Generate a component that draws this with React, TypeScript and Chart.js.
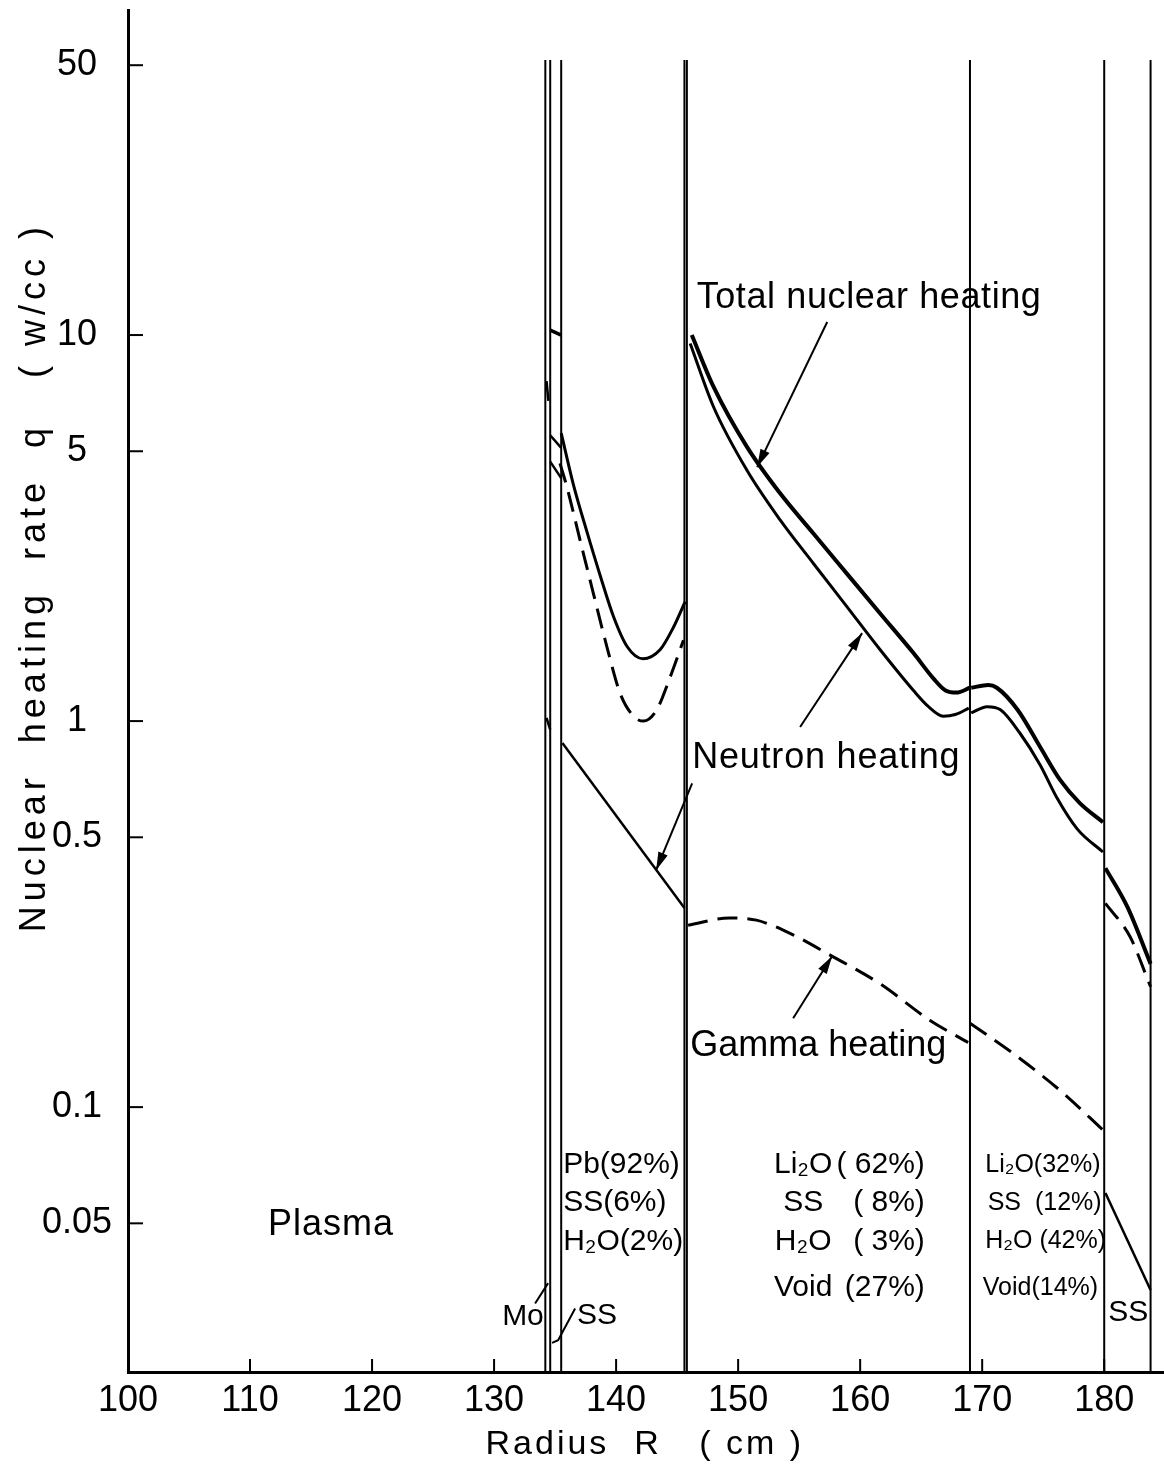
import React, { useEffect, useRef } from 'react';
import { Chart, registerables } from 'chart.js';

Chart.register(...registerables);

const FONT = "'Liberation Sans', Arial, sans-serif";
const W = 1164;
const H = 1469;

// ---- axes ----
const xTicks = [100, 110, 120, 130, 140, 150, 160, 170, 180];
const yTicks = [0.05, 0.1, 0.5, 1, 5, 10, 50];
const yTickLabels = ['0.05', '0.1', '0.5', '1', '5', '10', '50'];
const xRange = [100, 184.9];
const yRange = [0.0206, 69.5];
const xTitle = 'Radius  R   ( cm )';
const yTitle = 'Nuclear  heating  rate  q   ( w/cc )';

// ---- layer boundaries (cm) ----
const boundaryR = [134.2, 134.6, 135.5, 145.6, 145.8, 169.0, 180.0, 183.8];
const boundaryQ = [0.0206, 51.6];

// ---- first wall (Mo / SS) ----
const fwTotalR = [134.6, 135.5];
const fwTotalQ = [10.3, 10.0];
const fwMoGammaR = [134.3, 134.5];
const fwMoGammaQ = [7.6, 6.5];
const fwUpperR = [134.6, 135.5];
const fwUpperQ = [5.5, 5.1];
const fwGammaR = [134.6, 135.5];
const fwGammaQ = [4.7, 4.26];
const fwLowR = [134.3, 134.6];
const fwLowQ = [1.02, 0.95];

// ---- Pb zone ----
const pbTotalR = [135.5, 136.5, 137.6, 138.7, 139.8, 140.9, 142.2, 143.6, 144.7, 145.66];
const pbTotalQ = [5.57, 4.1, 3.1, 2.38, 1.86, 1.56, 1.45, 1.53, 1.75, 2.04];
const pbGammaR = [135.4, 135.96, 137.05, 138.14, 139.24, 140.33, 141.42, 142.24, 143.33, 144.43, 145.52];
const pbGammaQ = [4.65, 4.05, 2.94, 2.14, 1.56, 1.18, 1.03, 1.0, 1.07, 1.3, 1.62];
const pbNeutronR = [135.6, 145.6];
const pbNeutronQ = [0.877, 0.328];

// ---- Li2O (62%) zone ----
const liTotalR = [146.2, 147.98, 150.71, 153.44, 156.17, 158.91, 161.64, 164.37, 166.0, 167.0, 167.9, 169.0];
const liTotalQ = [10.0, 7.35, 5.14, 3.89, 3.06, 2.41, 1.9, 1.5, 1.29, 1.2, 1.185, 1.22];
const liNeutronR = [146.07, 147.98, 150.71, 153.44, 156.17, 158.91, 161.64, 164.37, 165.6, 166.8, 167.8, 168.9];
const liNeutronQ = [9.51, 6.52, 4.47, 3.32, 2.56, 1.98, 1.53, 1.2, 1.09, 1.03, 1.04, 1.08];
const liGammaR = [145.9, 149.3, 151.5, 154.25, 157.5, 161.6, 165.7, 168.85];
const liGammaQ = [0.296, 0.309, 0.305, 0.282, 0.248, 0.209, 0.168, 0.147];

// ---- Li2O (32%) zone ----
const li2TotalR = [169.1, 170.5, 171.2, 172.9, 174.75, 176.4, 178.0, 179.9];
const li2TotalQ = [1.22, 1.24, 1.22, 1.07, 0.857, 0.703, 0.613, 0.547];
const li2NeutronR = [169.1, 170.4, 171.5, 173.1, 174.75, 176.1, 177.8, 179.9];
const li2NeutronQ = [1.05, 1.09, 1.07, 0.93, 0.77, 0.635, 0.525, 0.458];
const li2GammaR = [169.0, 172.5, 176.6, 179.9];
const li2GammaQ = [0.165, 0.138, 0.109, 0.0872];

// ---- SS shield zone ----
const ssTotalR = [180.1, 181.9, 183.8];
const ssTotalQ = [0.416, 0.33, 0.235];
const ssGammaR = [180.1, 182.1, 183.8];
const ssGammaQ = [0.337, 0.277, 0.205];
const ssNeutronR = [180.1, 183.8];
const ssNeutronQ = [0.0599, 0.0336];

// ---- annotations (data coordinates) ----
type Note = { text: string; r: number; q: number; size: number; align: CanvasTextAlign; ls?: number };
const notes: Note[] = [
  { text: 'Total nuclear heating', r: 146.6, q: 12.5, size: 36, align: 'left', ls: 0.6 },
  { text: 'Neutron heating', r: 146.23, q: 0.802, size: 36, align: 'left', ls: 0.8 },
  { text: 'Gamma heating', r: 146.07, q: 0.144, size: 36, align: 'left' },
  { text: 'Plasma', r: 111.48, q: 0.0495, size: 36, align: 'left', ls: 1 },
  { text: 'Pb(92%)', r: 135.66, q: 0.0708, size: 30, align: 'left' },
  { text: 'SS(6%)', r: 135.66, q: 0.0564, size: 30, align: 'left' },
  { text: 'H\u2082O(2%)', r: 135.66, q: 0.0449, size: 30, align: 'left' },
  { text: 'Li\u2082O', r: 155.33, q: 0.0708, size: 30, align: 'center' },
  { text: 'SS', r: 155.33, q: 0.0564, size: 30, align: 'center' },
  { text: 'H\u2082O', r: 155.33, q: 0.0449, size: 30, align: 'center' },
  { text: 'Void', r: 155.33, q: 0.034, size: 30, align: 'center' },
  { text: '( 62%)', r: 165.3, q: 0.0708, size: 30, align: 'right' },
  { text: '( 8%)', r: 165.3, q: 0.0564, size: 30, align: 'right' },
  { text: '( 3%)', r: 165.3, q: 0.0449, size: 30, align: 'right' },
  { text: '(27%)', r: 165.3, q: 0.034, size: 30, align: 'right' },
  { text: 'Li\u2082O(32%)', r: 170.25, q: 0.0708, size: 25, align: 'left' },
  { text: 'SS  (12%)', r: 170.45, q: 0.0564, size: 25, align: 'left' },
  { text: 'H\u2082O (42%)', r: 170.25, q: 0.0449, size: 25, align: 'left' },
  { text: 'Void(14%)', r: 170.05, q: 0.034, size: 25, align: 'left' },
  { text: 'SS', r: 180.33, q: 0.0293, size: 30, align: 'left' },
  { text: 'Mo', r: 130.66, q: 0.0286, size: 30, align: 'left' },
  { text: 'SS', r: 136.8, q: 0.0289, size: 30, align: 'left' },
];

type Arrow = { pts: [number, number][]; head: boolean };
const arrows: Arrow[] = [
  { pts: [[157.3, 10.81], [151.56, 4.55]], head: true },
  { pts: [[155.08, 0.965], [160.16, 1.69]], head: true },
  { pts: [[146.23, 0.69], [143.28, 0.411]], head: true },
  { pts: [[154.51, 0.17], [157.7, 0.246]], head: true },
  { pts: [[133.36, 0.031], [134.43, 0.035]], head: false },
  { pts: [[136.64, 0.0301], [135.25, 0.0249], [134.75, 0.0245]], head: false },
];

const pts = (r: number[], q: number[]) => r.map((v, i) => ({ x: v, y: q[i] }));

function curve(r: number[], q: number[], width: number, dashed = false) {
  return {
    data: pts(r, q),
    showLine: true,
    borderColor: '#000',
    borderWidth: width,
    borderDash: dashed ? [20, 10] : [],
    pointRadius: 0,
    fill: false,
    cubicInterpolationMode: 'monotone' as const,
  };
}

function straight(r: number[], q: number[], width: number, dashed = false) {
  return {
    data: pts(r, q),
    showLine: true,
    borderColor: '#000',
    borderWidth: width,
    borderDash: dashed ? [20, 10] : [],
    pointRadius: 0,
    fill: false,
    tension: 0,
  };
}

const annotPlugin = {
  id: 'annot',
  afterDraw(chart: any) {
    const { ctx, chartArea } = chart;
    const xs = chart.scales.x;
    const ys = chart.scales.y;
    ctx.save();
    ctx.strokeStyle = '#000';
    ctx.fillStyle = '#000';
    ctx.lineWidth = 2;
    // inward tick marks
    xTicks.forEach((v) => {
      if (v === xRange[0]) return;
      const px = xs.getPixelForValue(v);
      ctx.beginPath();
      ctx.moveTo(px, chartArea.bottom);
      ctx.lineTo(px, chartArea.bottom - 13);
      ctx.stroke();
    });
    yTicks.forEach((v) => {
      const py = ys.getPixelForValue(v);
      ctx.beginPath();
      ctx.moveTo(chartArea.left, py);
      ctx.lineTo(chartArea.left + 15, py);
      ctx.stroke();
    });
    // arrows / leaders
    arrows.forEach((a) => {
      const p = a.pts.map(([r, q]) => [xs.getPixelForValue(r), ys.getPixelForValue(q)]);
      ctx.lineWidth = 2;
      ctx.beginPath();
      ctx.moveTo(p[0][0], p[0][1]);
      for (let i = 1; i < p.length; i++) ctx.lineTo(p[i][0], p[i][1]);
      ctx.stroke();
      if (a.head) {
        const [x1, y1] = p[p.length - 2];
        const [x2, y2] = p[p.length - 1];
        const ang = Math.atan2(y2 - y1, x2 - x1);
        const L = 18;
        const Wd = 5;
        ctx.beginPath();
        ctx.moveTo(x2, y2);
        ctx.lineTo(x2 - L * Math.cos(ang) + Wd * Math.sin(ang), y2 - L * Math.sin(ang) - Wd * Math.cos(ang));
        ctx.lineTo(x2 - L * Math.cos(ang) - Wd * Math.sin(ang), y2 - L * Math.sin(ang) + Wd * Math.cos(ang));
        ctx.closePath();
        ctx.fill();
      }
    });
    // notes
    ctx.textBaseline = 'middle';
    notes.forEach((n) => {
      ctx.font = `${n.size}px ${FONT}`;
      ctx.textAlign = n.align;
      (ctx as any).letterSpacing = `${n.ls ?? 0}px`;
      ctx.fillText(n.text, xs.getPixelForValue(n.r), ys.getPixelForValue(n.q));
    });
    // x-axis title
    ctx.font = `34px ${FONT}`;
    ctx.textAlign = 'center';
    (ctx as any).letterSpacing = '3px';
    ctx.fillText(xTitle, xs.getPixelForValue(142.35), chartArea.bottom + 73);
    // y-axis title
    ctx.save();
    ctx.translate(35, ys.getPixelForValue(2.36));
    ctx.rotate(-Math.PI / 2);
    ctx.font = `36px ${FONT}`;
    ctx.textAlign = 'center';
    (ctx as any).letterSpacing = '5px';
    ctx.fillText(yTitle, 0, 0);
    ctx.restore();
    ctx.restore();
  },
};

export default function App() {
  const ref = useRef<HTMLCanvasElement>(null);
  useEffect(() => {
    const canvas = ref.current;
    if (!canvas) return;
    const datasets: any[] = [];
    boundaryR.forEach((r) => datasets.push(straight([r, r], boundaryQ, 2)));
    datasets.push(straight(fwTotalR, fwTotalQ, 3.5));
    datasets.push(straight(fwMoGammaR, fwMoGammaQ, 2.5, true));
    datasets.push(straight(fwUpperR, fwUpperQ, 2.5));
    datasets.push(straight(fwGammaR, fwGammaQ, 2.5, true));
    datasets.push(straight(fwLowR, fwLowQ, 2.5));
    datasets.push(curve(pbTotalR, pbTotalQ, 3));
    datasets.push(curve(pbGammaR, pbGammaQ, 3, true));
    datasets.push(straight(pbNeutronR, pbNeutronQ, 2.5));
    datasets.push(curve(liTotalR, liTotalQ, 4));
    datasets.push(curve(liNeutronR, liNeutronQ, 3));
    datasets.push(curve(liGammaR, liGammaQ, 3, true));
    datasets.push(curve(li2TotalR, li2TotalQ, 4));
    datasets.push(curve(li2NeutronR, li2NeutronQ, 3));
    datasets.push(curve(li2GammaR, li2GammaQ, 3, true));
    datasets.push(curve(ssTotalR, ssTotalQ, 4));
    datasets.push(curve(ssGammaR, ssGammaQ, 3, true));
    datasets.push(straight(ssNeutronR, ssNeutronQ, 2.5));

    const chart = new Chart(canvas, {
      type: 'scatter',
      data: { datasets },
      plugins: [annotPlugin],
      options: {
        animation: false,
        responsive: false,
        devicePixelRatio: 1,
        layout: { padding: { top: 10, right: 0, left: 0, bottom: 0 } },
        plugins: { legend: { display: false }, tooltip: { enabled: false } },
        scales: {
          x: {
            type: 'linear',
            min: xRange[0],
            max: xRange[1],
            afterFit: (s: any) => {
              s.height = 97;
              s.paddingLeft = 0;
              s.paddingRight = 0;
            },
            afterBuildTicks: (s: any) => {
              s.ticks = xTicks.map((v) => ({ value: v }));
            },
            grid: { display: false, drawTicks: false },
            border: { display: true, color: '#000', width: 3 },
            ticks: {
              color: '#000',
              font: { family: FONT, size: 36 },
              padding: 7,
              maxRotation: 0,
              autoSkip: false,
              callback: (v: any) => String(v),
            },
          },
          y: {
            type: 'logarithmic',
            min: yRange[0],
            max: yRange[1],
            afterFit: (s: any) => {
              s.width = 128;
              s.paddingTop = 0;
              s.paddingBottom = 0;
            },
            afterBuildTicks: (s: any) => {
              s.ticks = yTicks.map((v) => ({ value: v }));
            },
            grid: { display: false, drawTicks: false },
            border: { display: true, color: '#000', width: 3 },
            ticks: {
              color: '#000',
              font: { family: FONT, size: 36 },
              padding: 16,
              crossAlign: 'center',
              autoSkip: false,
              callback: (v: any) => {
                const i = yTicks.indexOf(Number(v));
                return i >= 0 ? yTickLabels[i] : '';
              },
            },
          },
        },
      },
    });
    return () => chart.destroy();
  }, []);
  return (
    <div style={{ position: 'fixed', left: 0, top: 0, width: W, height: H, background: '#fff' }}>
      <canvas ref={ref} width={W} height={H} style={{ display: 'block', width: W, height: H }} />
    </div>
  );
}
